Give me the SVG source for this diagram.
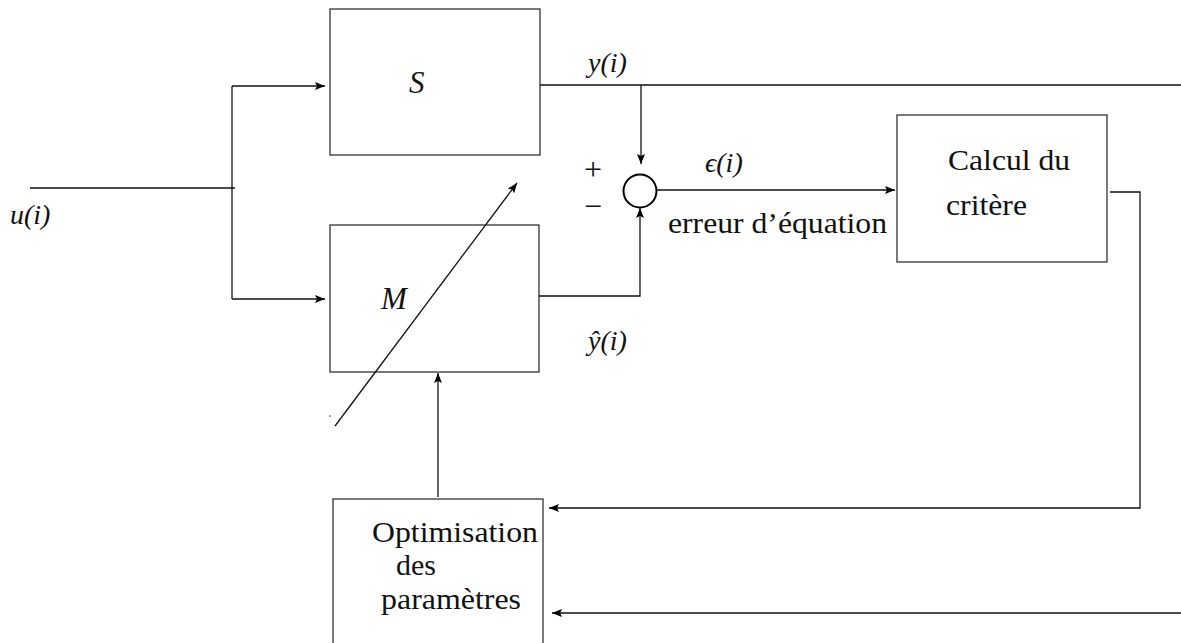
<svg xmlns="http://www.w3.org/2000/svg" width="1181" height="643" viewBox="0 0 1181 643">
<style>
.box{fill:#fff;stroke:#333;stroke-width:1.3}
.ln{fill:none;stroke:#111;stroke-width:1.3}
.t{font-family:"Liberation Serif","Times New Roman","DejaVu Serif",serif;font-size:29px;fill:#111}
.m{font-family:"Liberation Serif","Times New Roman","DejaVu Serif",serif;font-style:italic;font-size:28px;fill:#111}
.up{font-family:"Liberation Serif","Times New Roman","DejaVu Serif",serif;font-size:32px;fill:#111}
</style>
<defs>
<marker id="ah" viewBox="0 0 10 8" refX="10" refY="4" markerWidth="10" markerHeight="8" markerUnits="userSpaceOnUse" orient="auto">
<path d="M0,0 L10,4 L0,8 L2,4 Z" fill="#000"/>
</marker>
</defs>
<g id="S"><rect class="box" x="330" y="9" width="210" height="146"/><text class="m" x="409" y="93" style="font-size:31px">S</text></g>
<g id="M"><rect class="box" x="330" y="225" width="209" height="147"/><text class="m" x="381" y="309" style="font-size:31px">M</text></g>
<g id="sum"><circle cx="640" cy="191" r="16.5" fill="#fff" stroke="#000" stroke-width="2"/><text class="up" x="584" y="180">+</text><text class="up" x="584" y="217">−</text></g>
<g id="calcul"><rect class="box" x="897" y="115" width="210" height="147"/><text class="t" x="948" y="170" textLength="122" lengthAdjust="spacingAndGlyphs">Calcul du</text><text class="t" x="946" y="215" textLength="81" lengthAdjust="spacingAndGlyphs">critère</text></g>
<g id="optim"><rect class="box" x="333" y="499" width="210" height="150"/><text class="t" x="372" y="542" textLength="166" lengthAdjust="spacingAndGlyphs">Optimisation</text><text class="t" x="396" y="575" textLength="40" lengthAdjust="spacingAndGlyphs">des</text><text class="t" x="381" y="609" textLength="140" lengthAdjust="spacingAndGlyphs">paramètres</text></g>
<g id="connectors">
<path class="ln" d="M30,188 H235"/>
<path class="ln" d="M232,86 V299"/>
<path class="ln" d="M232,86 H325" marker-end="url(#ah)"/>
<path class="ln" d="M232,299 H325" marker-end="url(#ah)"/>
<path class="ln" d="M540,85 H1181"/>
<path class="ln" d="M641,85 V164" marker-end="url(#ah)"/>
<path class="ln" d="M539,296 H640 V208" marker-end="url(#ah)"/>
<path class="ln" d="M657,190 H895" marker-end="url(#ah)"/>
<path class="ln" d="M1110,192 H1140 V508 H549" marker-end="url(#ah)"/>
<path class="ln" d="M1181,613 H552" marker-end="url(#ah)"/>
<path class="ln" d="M438,497 V373" marker-end="url(#ah)"/>
<path class="ln" d="M335,426 L517,183" marker-end="url(#ah)"/>
<circle cx="330" cy="416" r="0.8" fill="#333"/>
<text class="m" x="10" y="224">u(i)</text>
<text class="m" x="588" y="72">y(i)</text>
<text class="m" x="705" y="172">ϵ(i)</text>
<text class="t" x="668" y="233" textLength="219" lengthAdjust="spacingAndGlyphs">erreur d’équation</text>
<text class="m" x="588" y="350">ŷ(i)</text>
</g>
</svg>
